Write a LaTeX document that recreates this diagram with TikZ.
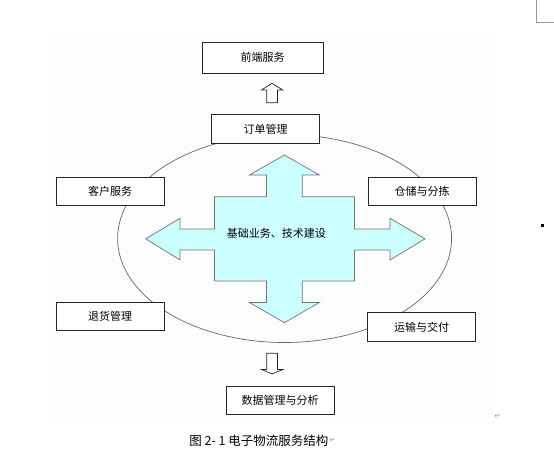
\documentclass[tikz,border=0pt]{standalone}
\usepackage{xcolor}
\usepackage{fontspec}
\usepackage{tikz}
\usetikzlibrary{positioning, shapes, arrows.meta}

\newfontfamily\cjk{Noto Sans CJK SC}
\newfontfamily\symfont{DejaVu Sans}
\definecolor{crossfill}{HTML}{CCFFFF}
\definecolor{linegray}{HTML}{666666}

\tikzset{
    box/.style={draw=black!85, fill=white, line width=0.8pt, inner sep=0pt,
        minimum width=108pt, minimum height=28.5pt,
        font=\cjk\fontsize{11}{13}\selectfont},
    hollow/.style={draw=black!85, fill=white, line width=0.7pt, line join=miter},
    retmark/.style={text=black!45, inner sep=0pt, font=\symfont\fontsize{7}{8}\selectfont}
}

\begin{document}
\begin{tikzpicture}[x=1pt, y=-1pt]
        \useasboundingbox (0,0) rectangle (554,456);
        \fill[black!0.7] (53,32) rectangle (493,419);

        % page corner and stray mark
        \draw[black!40, line width=0.7pt] (536.7,0) -- (536.7,22) -- (554,22);
        \fill[black] (541,224.3) rectangle (544,227.3);

        % ring of services
        \draw[linegray, line width=0.7pt] (284.6,238.5) ellipse [x radius=167pt, y radius=104pt];

        % cross arrow in the middle
        \begin{scope}[shift={(284.4,238.8)}]
        \draw[fill=crossfill, draw=black!55, line width=0.7pt, line join=miter]
            (0,-83.8) -- (34.9,-63.8) -- (17.9,-63.8) -- (17.9,-42.1)
            -- (70,-42.1) -- (70,-9.8) -- (105.6,-9.8) -- (105.6,-20.5)
            -- (140.6,0) -- (105.6,21.2) -- (105.6,11.2) -- (70,11.2)
            -- (70,42.2) -- (17.9,42.2) -- (17.9,63.7) -- (34.9,63.7)
            -- (0,83.9) -- (-34.9,63.7) -- (-17.9,63.7) -- (-17.9,42.2)
            -- (-70,42.2) -- (-70,11.2) -- (-104.4,11.2) -- (-104.4,21.2)
            -- (-138.7,0) -- (-104.4,-20.5) -- (-104.4,-9.8) -- (-70,-9.8)
            -- (-70,-42.1) -- (-17.9,-42.1) -- (-17.9,-63.8) -- (-34.9,-63.8)
            -- cycle;
        \end{scope}
        \node[inner sep=0pt, font=\cjk\fontsize{11}{13}\selectfont] (core) at (276.3,233.5) {基础业务、技术建设};

        % boxes
        \node[box, minimum width=121pt, minimum height=31pt] (front) at (262.5,57.5) {前端服务};
        \node[box] (order) at (265.5,128.8) {订单管理};
        \node[box] (customer) at (110,191.2) {客户服务};
        \node[box] (storage) at (422,191.5) {仓储与分拣};
        \node[box] (returns) at (110,316.3) {退货管理};
        \node[box] (transport) at (421.7,327) {运输与交付};
        \node[box, minimum height=27.5pt] (data) at (280,400.5) {数据管理与分析};

        % hollow arrows
        \draw[hollow] (272,83.3) -- (282.7,90) -- (277.4,90) -- (277.4,102.7)
            -- (266.8,102.7) -- (266.8,90) -- (261.5,90) -- cycle;
        \draw[hollow] (266.8,353.3) -- (277.4,353.3) -- (277.4,369.5) -- (283,369.5)
            -- (272.2,373.9) -- (261.5,369.5) -- (266.8,369.5) -- cycle;

        % caption
        \node[inner sep=0pt, font=\cjk\fontsize{12.5}{14}\selectfont] (caption) at (258.9,440.5) {图 2- 1 电子物流服务结构};
        \node[retmark, right=0.8pt of caption] (capmark) {↵};
        \node[retmark] (endmark) at (497.5,416.7) {↵};
    \end{tikzpicture}
\end{document}
